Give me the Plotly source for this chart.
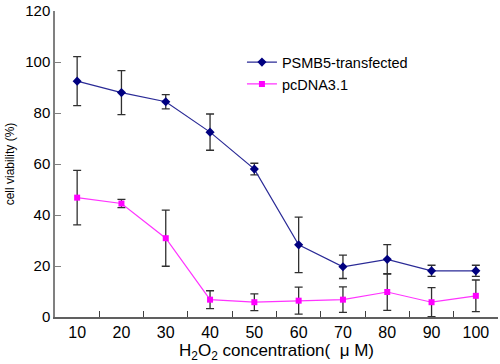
import plotly.graph_objects as go

conc = ["10", "20", "30", "40", "50", "60", "70", "80", "90", "100"]
psmb5 = [92.5, 88.0, 84.4, 72.5, 58.0, 28.3, 19.7, 22.6, 18.1, 18.1]
psmb5_err = [9.6, 8.6, 2.8, 7.1, 2.3, 10.9, 4.6, 5.8, 2.2, 2.2]
pcdna = [46.8, 44.5, 30.9, 6.8, 5.8, 6.4, 6.8, 9.8, 5.8, 8.3]
pcdna_err = [10.7, 1.6, 11.0, 3.5, 3.3, 5.3, 5.0, 7.2, 5.7, 6.2]
yticks = [0, 20, 40, 60, 80, 100, 120]

err_style = dict(type="data", visible=True, color="#303030", thickness=1.3, width=4)

fig = go.Figure()
fig.add_trace(go.Scatter(
    x=conc, y=psmb5, name="PSMB5-transfected", mode="lines+markers",
    line=dict(color="#2a2a96", width=1.2),
    marker=dict(symbol="diamond", size=7, color="#000080"),
    error_y=dict(array=psmb5_err, **err_style),
))
fig.add_trace(go.Scatter(
    x=conc, y=pcdna, name="pcDNA3.1", mode="lines+markers",
    line=dict(color="#ff33ff", width=1.2),
    marker=dict(symbol="square", size=6, color="#ff00ff"),
    error_y=dict(array=pcdna_err, **err_style),
))

fig.update_layout(
    width=500, height=364,
    margin=dict(l=55, r=2, t=7, b=47),
    paper_bgcolor="white", plot_bgcolor="white",
    font=dict(family="Arial, Liberation Sans, sans-serif", color="black"),
    showlegend=True,
    legend=dict(x=0.422, y=0.885, xanchor="left", yanchor="top",
                bgcolor="rgba(0,0,0,0)", font=dict(size=14.5),
                itemwidth=30, tracegroupgap=0),
    xaxis=dict(
        type="category", tickson="boundaries", ticks="inside", ticklen=6,
        tickcolor="#404040", showline=True, linecolor="#606060", linewidth=1.5,
        showgrid=False, zeroline=False, tickfont=dict(size=16),
        title=dict(text="H<sub>2</sub>O<sub>2</sub> concentration(  μ M)",
                   font=dict(size=17), standoff=0),
        range=[-0.5, 9.5],
    ),
    yaxis=dict(
        range=[0, 120], tickvals=yticks, ticks="inside", ticklen=6,
        tickcolor="#808080", showline=True, linecolor="#808080", linewidth=1.5,
        showgrid=False, zeroline=False, tickfont=dict(size=15),
        ticklabeloverflow="allow",
        title=dict(text="cell viability (%)", font=dict(size=12), standoff=8),
    ),
)

fig.write_html("out.html", config={"displayModeBar": False},
               post_script="document.body.style.margin='0';")
